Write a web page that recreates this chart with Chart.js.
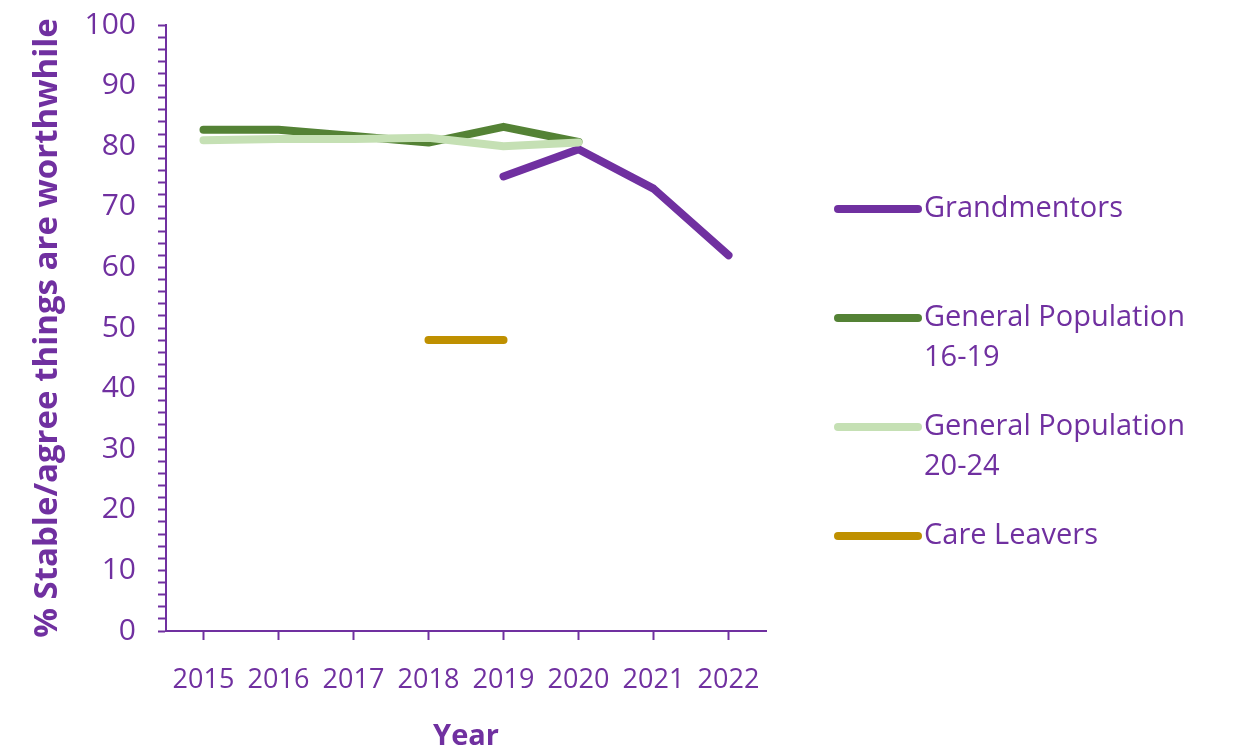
<!DOCTYPE html>
<html>
<head>
<meta charset="utf-8">
<script src="https://cdn.jsdelivr.net/npm/chart.js@4.4.1/dist/chart.umd.min.js"></script>
<style>
  html, body { margin: 0; padding: 0; background: #fff; }
  #wrap { width: 1233px; height: 751px; }
</style>
</head>
<body>
<div id="wrap"><canvas id="myChart" width="1233" height="751"></canvas></div>
<script>
// DATA //
const years = ["2015", "2016", "2017", "2018", "2019", "2020", "2021", "2022"];
const grandmentors = [null, null, null, null, 75, 79.5, 73, 62];
const genPop1619 = [82.7, 82.7, 81.7, 80.6, 83.2, 80.7, null, null];
const genPop2024 = [81, 81.2, 81.2, 81.4, 80, 80.6, null, null];
const careLeavers = [null, null, null, 48, 48, null, null, null];
const yTicks = [0, 10, 20, 30, 40, 50, 60, 70, 80, 90, 100];

const seriesNames = [
  ["Grandmentors"],
  ["General Population", "16-19"],
  ["General Population", "20-24"],
  ["Care Leavers"],
];

const purple = "#7030A0";
const fontFam = "'Open Sans', sans-serif";

// leyenda a la derecha, dibujada a mano //
const sideLegend = {
  id: "sideLegend",
  afterDraw(chart) {
    const ctx = chart.ctx;
    const area = chart.chartArea;
    const x0 = area.right + 72;
    const x1 = area.right + 152;
    const tx = area.right + 158;
    let y = area.top + 184;
    ctx.save();
    ctx.font = "29px " + fontFam;
    ctx.textBaseline = "middle";
    ctx.fillStyle = purple;
    chart.data.datasets.forEach((ds, i) => {
      ctx.strokeStyle = ds.borderColor;
      ctx.lineWidth = 8;
      ctx.lineCap = "round";
      ctx.beginPath();
      ctx.moveTo(x0, y);
      ctx.lineTo(x1, y);
      ctx.stroke();
      seriesNames[i].forEach((line, j) => {
        ctx.fillText(line, tx, y + j * 40);
      });
      y += 109;
    });
    ctx.restore();
  },
};

function lineSet(label, data, color, order) {
  return {
    label: label,
    data: data,
    borderColor: color,
    backgroundColor: color,
    borderWidth: 8,
    borderCapStyle: "round",
    borderJoinStyle: "round",
    pointRadius: 0,
    pointHoverRadius: 0,
    tension: 0,
    spanGaps: false,
    order: order,
  };
}

document.addEventListener("DOMContentLoaded", function () {
  const ctx = document.getElementById("myChart").getContext("2d");
  new Chart(ctx, {
    type: "line",
    data: {
      labels: years,
      datasets: [
        lineSet("Grandmentors", grandmentors, purple, 3),
        lineSet("General Population 16-19", genPop1619, "#548235", 2),
        lineSet("General Population 20-24", genPop2024, "#C5E0B4", 1),
        lineSet("Care Leavers", careLeavers, "#BF9000", 4),
      ],
    },
    options: {
      responsive: false,
      animation: false,
      layout: { padding: { top: 25, right: 467, left: 0, bottom: 0 } },
      plugins: {
        legend: { display: false },
        tooltip: { enabled: false },
      },
      scales: {
        x: {
          offset: true,
          afterFit: (s) => {
            s.height = 120;
            s.paddingLeft = 0;
            s.paddingRight = 0;
          },
          border: { color: purple, width: 2 },
          grid: {
            offset: false,
            drawOnChartArea: false,
            tickLength: 9,
            tickColor: purple,
            tickWidth: 2,
          },
          ticks: {
            color: purple,
            font: { family: fontFam, size: 27 },
            padding: 24,
            maxRotation: 0,
            autoSkip: false,
          },
          title: {
            display: true,
            text: "Year",
            color: purple,
            font: { family: fontFam, size: 29, weight: "bold" },
            padding: { top: 18, bottom: -3 },
          },
        },
        y: {
          min: 0,
          max: 100,
          afterFit: (s) => {
            s.width = 166;
            s.paddingTop = 0;
            s.paddingBottom = 0;
          },
          border: { color: purple, width: 2 },
          grid: {
            drawOnChartArea: false,
            tickLength: 8,
            tickColor: purple,
            tickWidth: 2,
          },
          ticks: {
            stepSize: 2,
            autoSkip: false,
            color: purple,
            font: { family: fontFam, size: 30 },
            padding: 22,
            callback: (v) => (yTicks.includes(v) ? String(v) : ""),
          },
          title: {
            display: true,
            text: "% Stable/agree things are worthwhile",
            color: purple,
            font: { family: fontFam, size: 33, weight: "bold" },
            padding: { top: 28, bottom: 0 },
          },
        },
      },
    },
    plugins: [sideLegend],
  });
});
</script>
</body>
</html>
